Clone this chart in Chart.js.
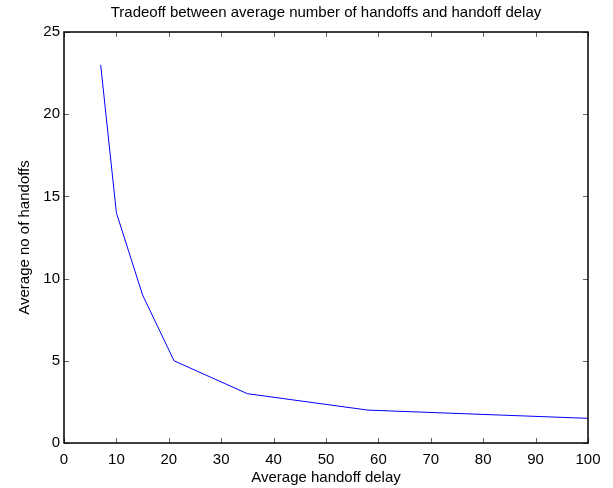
<!DOCTYPE html>
<html>
<head>
<meta charset="utf-8">
<script src="https://cdn.jsdelivr.net/npm/chart.js@4/dist/chart.umd.min.js"></script>
<style>
  html, body { margin: 0; padding: 0; background: #fff; }
  #wrap { width: 613px; height: 488px; }
</style>
</head>
<body>
<div id="wrap"><canvas id="c" width="613" height="488"></canvas></div>
<script>
const delayValues = [7, 10, 15, 21, 35, 58, 100];
const handoffValues = [23, 14, 9, 5, 3, 2, 1.5];
const xTickValues = [0, 10, 20, 30, 40, 50, 60, 70, 80, 90, 100];
const yTickValues = [0, 5, 10, 15, 20, 25];
const titleText = 'Tradeoff between average number of handoffs and handoff delay';
const xLabel = 'Average handoff delay';
const yLabel = 'Average no of handoffs';

const FONT = "'Liberation Sans', Arial, Helvetica, sans-serif";

const boxPlugin = {
  id: 'matlabBox',
  afterDraw(chart) {
    const ctx = chart.ctx;
    const a = chart.chartArea;
    const xs = chart.scales.x, ys = chart.scales.y;
    const tl = 5;
    ctx.save();
    ctx.strokeStyle = '#666';
    ctx.lineWidth = 1;
    ctx.beginPath();
    xs.ticks.forEach((t, i) => {
      const px = Math.round(xs.getPixelForTick(i)) + 0.5;
      ctx.moveTo(px, a.bottom); ctx.lineTo(px, a.bottom - tl);
      ctx.moveTo(px, a.top); ctx.lineTo(px, a.top + tl);
    });
    ys.ticks.forEach((t, i) => {
      const py = Math.round(ys.getPixelForTick(i)) + 0.5;
      ctx.moveTo(a.left, py); ctx.lineTo(a.left + tl, py);
      ctx.moveTo(a.right, py); ctx.lineTo(a.right - tl, py);
    });
    ctx.stroke();
    ctx.strokeStyle = '#000';
    ctx.lineWidth = 1.5;
    ctx.strokeRect(a.left, a.top, a.right - a.left, a.bottom - a.top);
    ctx.restore();
  }
};

new Chart(document.getElementById('c'), {
  type: 'scatter',
  data: {
    datasets: [{
      data: delayValues.map((x, i) => ({ x: x, y: handoffValues[i] })),
      showLine: true,
      borderColor: '#0000ff',
      borderWidth: 1,
      pointRadius: 0,
      fill: false,
      tension: 0
    }]
  },
  options: {
    responsive: false,
    devicePixelRatio: 1,
    animation: false,
    layout: { padding: { left: 0, right: 25, top: 0, bottom: 0 } },
    plugins: {
      legend: { display: false },
      tooltip: { enabled: false },
      title: {
        display: true,
        text: titleText,
        fullSize: false,
        color: '#000',
        font: { family: FONT, size: 15, weight: 'normal', lineHeight: 1.2 },
        padding: { top: 4, bottom: 10 }
      }
    },
    scales: {
      x: {
        type: 'linear',
        min: 0, max: 100,
        afterBuildTicks(s) { s.ticks = xTickValues.map(v => ({ value: v })); },
        afterFit(s) { s.height = 45; },
        grid: { display: false, drawTicks: false },
        border: { display: false },
        ticks: { color: '#000', padding: 8, font: { family: FONT, size: 15 }, maxRotation: 0, autoSkip: false },
        title: { display: true, text: xLabel, color: '#000', font: { family: FONT, size: 15 }, padding: { top: 0, bottom: 1 } }
      },
      y: {
        type: 'linear',
        min: 0, max: 25,
        afterBuildTicks(s) { s.ticks = yTickValues.map(v => ({ value: v })); },
        afterFit(s) { s.width = 64; },
        grid: { display: false, drawTicks: false },
        border: { display: false },
        ticks: { color: '#000', padding: 4, font: { family: FONT, size: 15 }, autoSkip: false },
        title: { display: true, text: yLabel, color: '#000', font: { family: FONT, size: 15 }, padding: { top: 16, bottom: 0 } }
      }
    }
  },
  plugins: [boxPlugin]
});
</script>
</body>
</html>
